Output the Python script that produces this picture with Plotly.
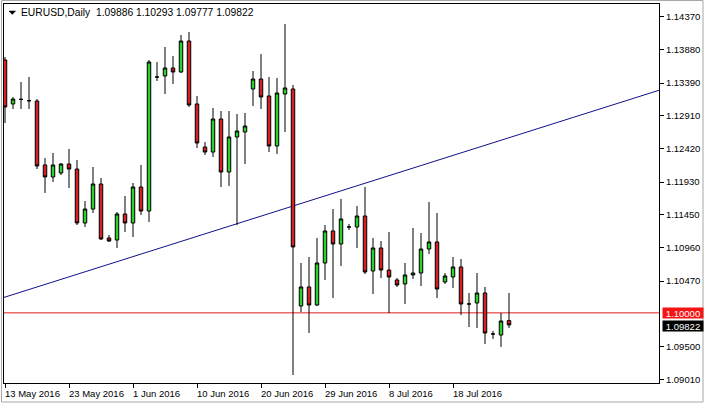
import plotly.graph_objects as go

# ---------------- data ----------------
symbol = "EURUSD,Daily"

dates = [
    "2016-05-13", "2016-05-15", "2016-05-16", "2016-05-17", "2016-05-18", "2016-05-19", "2016-05-20",
    "2016-05-22", "2016-05-23", "2016-05-24", "2016-05-25", "2016-05-26", "2016-05-27",
    "2016-05-29", "2016-05-30", "2016-05-31", "2016-06-01", "2016-06-02", "2016-06-03",
    "2016-06-05", "2016-06-06", "2016-06-07", "2016-06-08", "2016-06-09", "2016-06-10",
    "2016-06-12", "2016-06-13", "2016-06-14", "2016-06-15", "2016-06-16", "2016-06-17",
    "2016-06-19", "2016-06-20", "2016-06-21", "2016-06-22", "2016-06-23", "2016-06-24",
    "2016-06-26", "2016-06-27", "2016-06-28", "2016-06-29", "2016-06-30", "2016-07-01",
    "2016-07-03", "2016-07-04", "2016-07-05", "2016-07-06", "2016-07-07", "2016-07-08",
    "2016-07-10", "2016-07-11", "2016-07-12", "2016-07-13", "2016-07-14", "2016-07-15",
    "2016-07-17", "2016-07-18", "2016-07-19", "2016-07-20", "2016-07-21", "2016-07-22",
    "2016-07-24", "2016-07-25", "2016-07-26",
]

opens = [
    1.13731, 1.13082, 1.13150, 1.13130, 1.13126, 1.12182, 1.12005,
    1.12064, 1.12196, 1.12122, 1.11326, 1.11532, 1.11901,
    1.11105, 1.11075, 1.11459, 1.11326, 1.11857, 1.11503,
    1.13480, 1.13495, 1.13613, 1.13554, 1.14011, 1.13082,
    1.12447, 1.12373, 1.12860, 1.12078, 1.12595, 1.12668,
    1.13303, 1.13450, 1.13200, 1.12462, 1.13229, 1.13303,
    1.10101, 1.10382, 1.10116, 1.10736, 1.11208, 1.11016,
    1.11267, 1.11267, 1.11429, 1.10618, 1.10957, 1.10632,
    1.10485, 1.10426, 1.10559, 1.10588, 1.10942, 1.11046,
    1.10455, 1.10529, 1.10677, 1.10131, 1.10146, 1.10293,
    1.09688, 1.09673, 1.09886,
]

highs = [
    1.13775, 1.13185, 1.13406, 1.13480, 1.13155, 1.12285, 1.12359,
    1.12211, 1.12418, 1.12255, 1.11650, 1.12152, 1.11990,
    1.11149, 1.11488, 1.11724, 1.11916, 1.12182, 1.13731,
    1.13701, 1.13923, 1.13790, 1.14100, 1.14144, 1.13200,
    1.12521, 1.13023, 1.12978, 1.12978, 1.12934, 1.12949,
    1.13568, 1.13819, 1.13480, 1.13465, 1.14262, 1.13362,
    1.10736, 1.10824, 1.11105, 1.11296, 1.11532, 1.11680,
    1.11311, 1.11577, 1.11857, 1.11105, 1.11060, 1.11193,
    1.10514, 1.10736, 1.11252, 1.11178, 1.11636, 1.11473,
    1.10588, 1.10824, 1.10795, 1.10293, 1.10588, 1.10382,
    1.09733, 1.09998, 1.10293,
]

lows = [
    1.12801, 1.13008, 1.13008, 1.13008, 1.12122, 1.11769, 1.11931,
    1.12034, 1.11842, 1.11296, 1.11267, 1.11473, 1.11075,
    1.11046, 1.10957, 1.11193, 1.11119, 1.11444, 1.11341,
    1.13421, 1.13229, 1.13377, 1.13539, 1.13037, 1.12432,
    1.12329, 1.12300, 1.11857, 1.11872, 1.11296, 1.12196,
    1.13052, 1.13008, 1.12373, 1.12344, 1.12668, 1.09083,
    1.10013, 1.09703, 1.10101, 1.10485, 1.10219, 1.10691,
    1.11222, 1.10957, 1.10573, 1.10278, 1.10514, 1.09998,
    1.10382, 1.10131, 1.10500, 1.10396, 1.10869, 1.10219,
    1.10426, 1.10367, 1.09969, 1.09791, 1.09777, 1.09541,
    1.09615, 1.09497, 1.09777,
]

closes = [
    1.13037, 1.13155, 1.13150, 1.13130, 1.12167, 1.12005, 1.12182,
    1.12196, 1.12122, 1.11326, 1.11532, 1.11901, 1.11090,
    1.11060, 1.11459, 1.11326, 1.11857, 1.11503, 1.13701,
    1.13480, 1.13613, 1.13554, 1.14011, 1.13067, 1.12506,
    1.12373, 1.12860, 1.12078, 1.12595, 1.12683, 1.12757,
    1.13450, 1.13185, 1.12462, 1.13244, 1.13318, 1.10972,
    1.10382, 1.10116, 1.10736, 1.11208, 1.11016, 1.11385,
    1.11267, 1.11429, 1.10603, 1.10957, 1.10632, 1.10529,
    1.10411, 1.10559, 1.10588, 1.10942, 1.11046, 1.10352,
    1.10544, 1.10677, 1.10131, 1.10131, 1.10293, 1.09703,
    1.09688, 1.09880, 1.09822,
]

date_tick_dates = ["2016-05-13", "2016-05-23", "2016-06-01", "2016-06-10",
                   "2016-06-20", "2016-06-29", "2016-07-08", "2016-07-18"]
date_tick_labels = ["13 May 2016", "23 May 2016", "1 Jun 2016", "10 Jun 2016",
                    "20 Jun 2016", "29 Jun 2016", "8 Jul 2016", "18 Jul 2016"]

price_ticks = [1.14370, 1.13880, 1.13390, 1.12910, 1.12420, 1.11930,
               1.11450, 1.10960, 1.10470, 1.09500, 1.09010]

level_price = 1.10000
trend_x = [-0.125, 81.75]          # bar-index positions of the trend line ends
trend_y = [1.10228, 1.13284]       # prices at those positions

x_range = [-0.125, 81.75]
y_range = [1.08965, 1.14557]

# ---------------- styling ----------------
FONT = "Liberation Sans"
FS = 9.5
GREEN = "#28d228"
RED = "#d81e1e"
LEVEL_RED = "#e41c1c"
NAVY = "#10108a"

W, H = 704, 406
ML, MR, MT, MB = 4, 45, 4, 23
PW, PH = W - ML - MR, H - MT - MB


def pxx(px):
    return (px - ML) / PW


def pxy(py):
    return 1 - (py - MT) / PH


fig = go.Figure()
fig.add_trace(go.Candlestick(
    x=dates, open=opens, high=highs, low=lows, close=closes,
    increasing=dict(fillcolor=GREEN, line=dict(color="black", width=1)),
    decreasing=dict(fillcolor=RED, line=dict(color="black", width=1)),
    whiskerwidth=0,
    hoverinfo="skip",
    showlegend=False,
))

shapes = [
    # support level
    dict(type="line", xref="paper", yref="y", x0=0, x1=1, y0=level_price, y1=level_price,
         line=dict(color=LEVEL_RED, width=1), layer="below"),
    # trend line
    dict(type="line", xref="x", yref="y", x0=trend_x[0], x1=trend_x[1], y0=trend_y[0], y1=trend_y[1],
         line=dict(color=NAVY, width=1), layer="below"),
    # small menu triangle
    dict(type="path", xref="paper", yref="paper",
         path=f"M {pxx(9)} {pxy(11)} L {pxx(15.5)} {pxy(11)} L {pxx(12.25)} {pxy(14.5)} Z",
         fillcolor="black", line=dict(color="black", width=0.5)),
    # outer window border
    dict(type="rect", xref="paper", yref="paper",
         x0=pxx(1.5), x1=pxx(703), y0=pxy(0.5), y1=pxy(402),
         line=dict(color="#a8a8a8", width=1)),
]

annotations = []
for d, lab in zip(date_tick_dates, date_tick_labels):
    annotations.append(dict(x=d, xref="x", y=0, yref="paper", yshift=-10,
                            text=lab, showarrow=False, xanchor="left", yanchor="middle",
                            xshift=-2, font=dict(family=FONT, size=FS, color="black")))

title_text = (f"{symbol}\u00a0 {opens[-1]:.5f} {highs[-1]:.5f} "
              f"{lows[-1]:.5f} {closes[-1]:.5f}")
annotations.append(dict(x=pxx(19), y=pxy(12.7), xref="paper", yref="paper",
                        text=title_text, showarrow=False, xanchor="left", yanchor="middle",
                        font=dict(family=FONT, size=10.3, color="black")))

# price boxes on the right axis
annotations.append(dict(x=1, xref="paper", y=level_price, yref="y", xshift=3,
                        text=f"{level_price:.5f}", showarrow=False, xanchor="left", yanchor="middle",
                        width=40, height=10, bgcolor="#f51414", borderpad=0,
                        font=dict(family=FONT, size=FS, color="white")))
annotations.append(dict(x=1, xref="paper", y=closes[-1], yref="y", xshift=3, yshift=-1,
                        text=f"{closes[-1]:.5f}", showarrow=False, xanchor="left", yanchor="middle",
                        width=40, height=10, bgcolor="black", borderpad=0,
                        font=dict(family=FONT, size=FS, color="white")))

fig.update_layout(
    width=W, height=H,
    margin=dict(l=ML, r=MR, t=MT, b=MB, pad=0),
    paper_bgcolor="white", plot_bgcolor="white",
    font=dict(family=FONT, size=FS, color="black"),
    boxgap=0.38,
    shapes=shapes,
    annotations=annotations,
    xaxis=dict(type="category", range=x_range, rangeslider=dict(visible=False),
               showgrid=False, zeroline=False,
               showline=True, linecolor="black", linewidth=1, mirror=True,
               tickmode="array", tickvals=date_tick_dates, ticktext=[""] * len(date_tick_dates),
               ticks="outside", ticklen=4, tickcolor="black", tickwidth=1,
               fixedrange=True),
    yaxis=dict(side="right", range=y_range, showgrid=False, zeroline=False,
               showline=True, linecolor="black", linewidth=1, mirror=True,
               tickmode="array", tickvals=price_ticks,
               ticktext=[f"{v:.5f}" for v in price_ticks],
               ticks="outside", ticklen=4, tickcolor="black", tickwidth=1,
               tickfont=dict(family=FONT, size=FS, color="black"),
               fixedrange=True),
)

fig.write_html("out.html", config={"displayModeBar": False},
               post_script="document.body.style.margin='0';document.body.style.overflow='hidden';")
